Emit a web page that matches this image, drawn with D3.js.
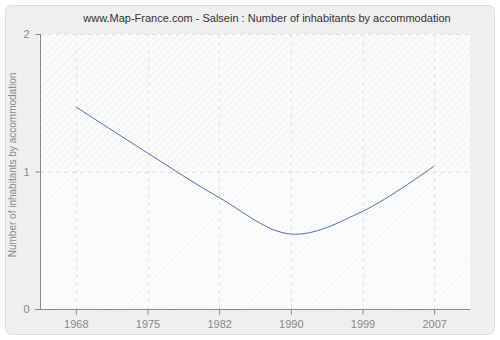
<!DOCTYPE html>
<html>
<head>
<meta charset="utf-8">
<script src="https://cdn.jsdelivr.net/npm/d3@7"></script>
<style>
  body { margin: 0; background: #fff; }
  svg text { font-family: "Liberation Sans", Arial, sans-serif; }
</style>
</head>
<body>
<div id="chart"></div>
<script>
var years = ["1968", "1975", "1982", "1990", "1999", "2007"];
var values = [1.47, 1.135, 0.81, 0.545, 0.71, 1.04];
var yTicks = [0, 1, 2];

var width = 500, height = 340;
var plot = { left: 40, right: 470, top: 34, bottom: 309 };

var svg = d3.select("#chart").append("svg")
  .attr("width", width)
  .attr("height", height);

// hatch pattern for the plot background
var defs = svg.append("defs");
var pat = defs.append("pattern")
  .attr("id", "hatch")
  .attr("patternUnits", "userSpaceOnUse")
  .attr("width", 5).attr("height", 5)
  .attr("patternTransform", "rotate(45)");
pat.append("rect").attr("width", 5).attr("height", 5).attr("fill", "#fbfbfb");
pat.append("line").attr("x1", 0).attr("y1", 0).attr("x2", 0).attr("y2", 5)
  .attr("stroke", "#ececec").attr("stroke-width", 1.2);

var pat2 = defs.append("pattern")
  .attr("id", "hatch2")
  .attr("patternUnits", "userSpaceOnUse")
  .attr("width", 5).attr("height", 5)
  .attr("patternTransform", "rotate(45)");
pat2.append("rect").attr("width", 5).attr("height", 5).attr("fill", "#fcfcfc");
pat2.append("line").attr("x1", 0).attr("y1", 0).attr("x2", 0).attr("y2", 5)
  .attr("stroke", "#f3f3f3").attr("stroke-width", 1.2);

// outer panel
svg.append("rect")
  .attr("x", 5.5).attr("y", 5.5)
  .attr("width", 489).attr("height", 329)
  .attr("rx", 6)
  .attr("fill", "#efefef")
  .attr("stroke", "#dedede");

var x = d3.scalePoint().domain(years).range([plot.left, plot.right]).padding(0.5);
var y = d3.scaleLinear().domain([0, 2]).range([plot.bottom, plot.top]);

// plot background
svg.append("rect")
  .attr("x", plot.left).attr("y", y(2))
  .attr("width", plot.right - plot.left).attr("height", y(1) - y(2))
  .attr("fill", "url(#hatch)");
svg.append("rect")
  .attr("x", plot.left).attr("y", y(1))
  .attr("width", plot.right - plot.left).attr("height", y(0) - y(1))
  .attr("fill", "url(#hatch2)");

// grid
svg.append("g").selectAll("line").data(years).enter().append("line")
  .attr("x1", function(d) { return Math.round(x(d)) + 0.5; })
  .attr("x2", function(d) { return Math.round(x(d)) + 0.5; })
  .attr("y1", plot.top).attr("y2", plot.bottom)
  .attr("stroke", "#e2e2e2")
  .attr("stroke-dasharray", "4,4");
svg.append("g").selectAll("line").data(yTicks.slice(1)).enter().append("line")
  .attr("x1", plot.left).attr("x2", plot.right)
  .attr("y1", function(d) { return Math.round(y(d)) + 0.5; })
  .attr("y2", function(d) { return Math.round(y(d)) + 0.5; })
  .attr("stroke", "#e2e2e2")
  .attr("stroke-dasharray", "4,4");

// axes
var xAxis = svg.append("g")
  .attr("transform", "translate(0," + (plot.bottom + 0.5) + ")")
  .call(d3.axisBottom(x).tickSize(5).tickPadding(6));
xAxis.select(".domain").attr("d", "M" + (plot.left - 5) + ",0H" + plot.right);

var yAxis = svg.append("g")
  .attr("transform", "translate(" + (plot.left + 0.5) + ",0)")
  .call(d3.axisLeft(y).tickValues(yTicks).tickFormat(d3.format("d")).tickSize(5).tickPadding(6));
yAxis.select(".domain").attr("d", "M0," + plot.top + "V" + (plot.bottom + 0.5));

svg.selectAll(".domain").attr("stroke", "#888");
svg.selectAll(".tick line").attr("stroke", "#888");
svg.selectAll(".tick text").attr("fill", "#888")
  .style("font-family", "\"Liberation Sans\", Arial, sans-serif")
  .style("font-size", "11px");

// line
var line = d3.line()
  .x(function(d, i) { return x(years[i]); })
  .y(function(d) { return y(d); })
  .curve(d3.curveCatmullRom);

svg.append("path")
  .datum(values)
  .attr("d", line)
  .attr("fill", "none")
  .attr("stroke", "#4a74a8")
  .attr("stroke-width", 1);

// title
svg.append("text")
  .attr("x", 267).attr("y", 22)
  .attr("text-anchor", "middle")
  .style("font-size", "11px")
  .attr("fill", "#333")
  .text("www.Map-France.com - Salsein : Number of inhabitants by accommodation");

// y label
svg.append("text")
  .attr("transform", "translate(16,165) rotate(-90)")
  .attr("text-anchor", "middle")
  .style("font-size", "10px")
  .attr("fill", "#888")
  .text("Number of inhabitants by accommodation");
</script>
</body>
</html>
